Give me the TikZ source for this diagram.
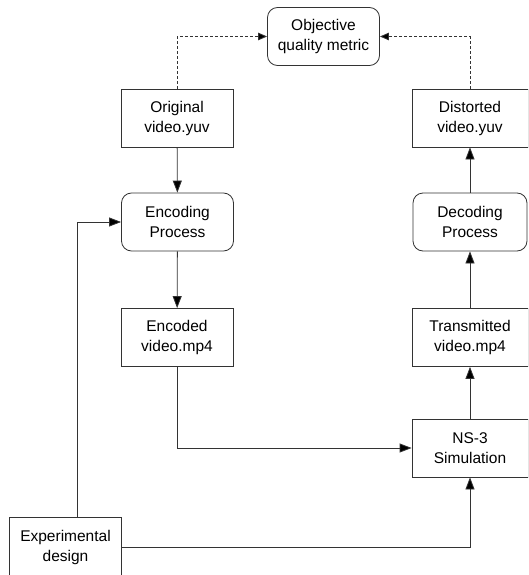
\documentclass[tikz,border=0pt]{standalone}
\usepackage{fontspec}
\setmainfont{Liberation Sans}
\usetikzlibrary{arrows.meta,calc,positioning}
\definecolor{Edge}{HTML}{333333}

\begin{document}
\begin{tikzpicture}[x=1pt,y=-1pt,
    box/.style={draw=Edge,line width=.8pt,minimum width=112pt,minimum height=58pt,
      inner sep=0pt,align=center,font=\fontsize{15.5}{20}\selectfont},
    proc/.style={box,rounded corners=10pt},
    flow/.style={draw=Edge,line width=.8pt,-{Triangle[length=12pt,width=9pt,fill=black]}},
    cmp/.style={draw=Edge,line width=.8pt,dash pattern=on 3pt off 2pt,
      -{Triangle[length=9pt,width=7.5pt,fill=black]}}]
  \clip (0,0) rectangle (528,575);
  % top
  \node[proc] (metric) at (323.5,36.5) {Objective\\quality metric};
  % left column
  \node[box] (orig) at (177,118) {Original\\video.yuv};
  \node[proc] (enc) at (177.5,222) {Encoding\\Process};
  \node[box] (encd) at (177,337.5) {Encoded\\video.mp4};
  \node[box,minimum height=60pt] (design) at (65.5,547) {Experimental\\design};
  % right column
  \node[box,minimum width=116pt] (dist) at (470,118) {Distorted\\video.yuv};
  \node[proc,minimum width=114pt] (dec) at (470,222) {Decoding\\Process};
  \node[box,minimum width=116pt] (trans) at (470,337.5) {Transmitted\\video.mp4};
  \node[box,minimum width=116pt] (ns) at (470,448) {NS-3\\Simulation};
  % links
  \draw[cmp] (orig.north) |- (metric.west);
  \draw[cmp] (dist.north) |- (metric.east);
  \draw[flow] (orig) -- (enc);
  \draw[flow] (enc) -- (encd);
  \draw[flow] (encd.south) |- (ns.west);
  \draw[flow] ([xshift=11.5pt]design.north) |- (enc.west);
  \draw[flow] (design.east) -| (ns.south);
  \draw[flow] (ns) -- (trans);
  \draw[flow] (trans) -- (dec);
  \draw[flow] (dec) -- (dist);
\end{tikzpicture}
\end{document}
